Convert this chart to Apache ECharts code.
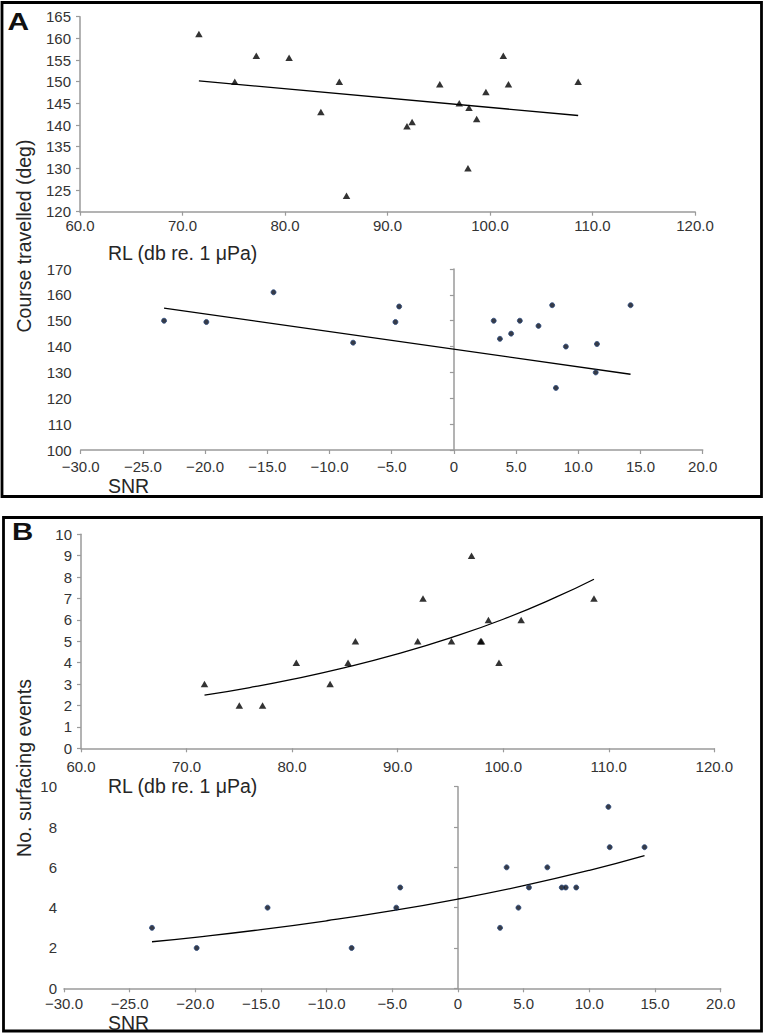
<!DOCTYPE html>
<html>
<head>
<meta charset="utf-8">
<script src="https://cdn.jsdelivr.net/npm/echarts@6/dist/echarts.min.js"></script>
<style>
html,body{margin:0;padding:0;background:#fff;}
#chart{width:767px;height:1034px;}
</style>
</head>
<body>
<div id="chart"></div>
<script>
// ---- Panel A: course travelled ----
const courseRL_x = [71.6, 75.1, 77.2, 80.4, 83.5, 85.3, 86.0, 91.9, 92.4, 95.1, 97.0, 97.95, 97.85, 98.7, 99.6, 101.3, 101.8, 108.6];
const courseRL_y = [161, 150, 156, 155.5, 143, 150, 123.7, 139.7, 140.7, 149.4, 145, 144, 130, 141.4, 147.6, 156, 149.4, 150];
const courseRL_trend_x = [71.6, 108.6];
const courseRL_trend_y = [150.2, 142.2];

const courseSNR_x = [-23.3, -19.9, -14.5, -8.1, -4.7, -4.4, 3.2, 3.7, 4.6, 5.3, 6.8, 7.9, 8.2, 9.0, 11.4, 11.5, 14.2];
const courseSNR_y = [150, 149.5, 161, 141.5, 149.5, 155.5, 150, 143, 145, 150, 148, 156, 124, 140, 130, 141, 156];
const courseSNR_trend_x = [-23.3, 14.2];
const courseSNR_trend_y = [154.9, 129.3];

// ---- Panel B: surfacing events ----
const surfRL_x = [71.7, 75.0, 77.2, 80.4, 83.6, 85.3, 86.0, 91.9, 92.4, 95.1, 97.0, 97.85, 97.95, 98.6, 99.6, 101.7, 108.6];
const surfRL_y = [3, 2, 2, 4, 3, 4, 5, 5, 7, 5, 9, 5, 5, 6, 4, 6, 7];
const surfRL_trend_x = [71.7, 76, 80, 85, 90, 95, 100, 105, 108.6];
const surfRL_trend_y = [2.48, 2.84, 3.22, 3.77, 4.41, 5.16, 6.03, 7.06, 7.90];

const surfSNR_x = [-23.3, -19.9, -14.5, -8.1, -4.7, -4.4, 3.2, 3.7, 4.6, 5.4, 6.8, 7.9, 8.2, 9.0, 11.45, 11.55, 14.2];
const surfSNR_y = [3, 2, 4, 2, 4, 5, 3, 6, 4, 5, 6, 5, 5, 5, 9, 7, 7];
const surfSNR_trend_x = [-23.3, -20, -15, -10, -5, 0, 5, 10, 14.2];
const surfSNR_trend_y = [2.31, 2.53, 2.91, 3.35, 3.85, 4.43, 5.09, 5.85, 6.58];

// ---- Labels ----
const panelLabels = ['A', 'B'];
const xTitleRL = 'RL (db re. 1 \u03BCPa)';
const xTitleSNR = 'SNR';
const yTitleA = 'Course travelled (deg)';
const yTitleB = 'No. surfacing events';

const zip = (xs, ys) => xs.map((x, i) => [x, ys[i]]);
const FONT = "'Liberation Sans', Arial, sans-serif";
const AXIS_GRAY = '#9a9a9a';
const LABEL_COLOR = '#333333';

function fmtRL(v) { return v.toFixed(1); }
function fmtSNR(v) { return v === 0 ? '0' : (v < 0 ? '\u2212' : '') + Math.abs(v).toFixed(1); }

function xAxisCfg(gridIndex, min, max, interval, fmt, margin) {
  return {
    type: 'value', gridIndex, min, max, interval,
    splitLine: { show: false },
    axisLine: { show: true, onZero: false, lineStyle: { color: AXIS_GRAY, width: 1.5 } },
    axisTick: { show: true, length: 4, lineStyle: { color: AXIS_GRAY, width: 1.2 } },
    axisLabel: { color: LABEL_COLOR, fontSize: 15, fontFamily: FONT, margin: margin, formatter: fmt, showMinLabel: true, showMaxLabel: true, hideOverlap: false }
  };
}
function yAxisCfg(gridIndex, min, max, interval, onZero, margin) {
  return {
    type: 'value', gridIndex, min, max, interval,
    splitLine: { show: false },
    axisLine: { show: true, onZero: onZero, lineStyle: { color: AXIS_GRAY, width: 1.5 } },
    axisTick: { show: true, length: 4, lineStyle: { color: AXIS_GRAY, width: 1.2 } },
    axisLabel: { color: LABEL_COLOR, fontSize: 15, fontFamily: FONT, margin: margin, showMinLabel: true, showMaxLabel: true, hideOverlap: false }
  };
}

const chart = echarts.init(document.getElementById('chart'), null, { renderer: 'svg' });

const triStyle = { color: '#000' };
const dotStyle = { color: '#050a18', borderColor: '#2a4a7e', borderWidth: 1 };
const trendStyle = { color: '#000', width: 1.3 };
const titleFill = '#262626';

const option = {
  animation: false,
  backgroundColor: '#fff',
  grid: [
    { left: 80, top: 16.7, width: 615, height: 195, outerBoundsMode: 'none' },
    { left: 80.7, top: 269, width: 622, height: 181, outerBoundsMode: 'none' },
    { left: 81, top: 534.3, width: 633.3, height: 214, outerBoundsMode: 'none' },
    { left: 64, top: 786.7, width: 656.7, height: 201.6, outerBoundsMode: 'none' }
  ],
  xAxis: [
    xAxisCfg(0, 60, 120, 10, fmtRL, 6),
    xAxisCfg(1, -30, 20, 5, fmtSNR, 9),
    xAxisCfg(2, 60, 120, 10, fmtRL, 11),
    xAxisCfg(3, -30, 20, 5, fmtSNR, 8)
  ],
  yAxis: [
    yAxisCfg(0, 120, 165, 5, false, 9),
    yAxisCfg(1, 100, 170, 10, true, 9),
    yAxisCfg(2, 0, 10, 1, false, 9),
    yAxisCfg(3, 0, 10, 2, true, 7)
  ],
  series: [
    { type: 'scatter', xAxisIndex: 0, yAxisIndex: 0, symbol: 'triangle', symbolSize: [7.5, 6.5], itemStyle: triStyle, data: zip(courseRL_x, courseRL_y), z: 3 },
    { type: 'line', xAxisIndex: 0, yAxisIndex: 0, showSymbol: false, lineStyle: trendStyle, data: zip(courseRL_trend_x, courseRL_trend_y), z: 2 },
    { type: 'scatter', xAxisIndex: 1, yAxisIndex: 1, symbol: 'circle', symbolSize: 5, itemStyle: dotStyle, data: zip(courseSNR_x, courseSNR_y), z: 3 },
    { type: 'line', xAxisIndex: 1, yAxisIndex: 1, showSymbol: false, lineStyle: trendStyle, data: zip(courseSNR_trend_x, courseSNR_trend_y), z: 2 },
    { type: 'scatter', xAxisIndex: 2, yAxisIndex: 2, symbol: 'triangle', symbolSize: [7.5, 6.5], itemStyle: triStyle, data: zip(surfRL_x, surfRL_y), z: 3 },
    { type: 'line', xAxisIndex: 2, yAxisIndex: 2, showSymbol: false, smooth: true, lineStyle: trendStyle, data: zip(surfRL_trend_x, surfRL_trend_y), z: 2 },
    { type: 'scatter', xAxisIndex: 3, yAxisIndex: 3, symbol: 'circle', symbolSize: 5, itemStyle: dotStyle, data: zip(surfSNR_x, surfSNR_y), z: 3 },
    { type: 'line', xAxisIndex: 3, yAxisIndex: 3, showSymbol: false, smooth: true, lineStyle: trendStyle, data: zip(surfSNR_trend_x, surfSNR_trend_y), z: 2 }
  ],
  graphic: [
    { type: 'rect', shape: { x: 2, y: 2.5, width: 759.5, height: 494 }, style: { fill: 'none', stroke: '#000', lineWidth: 2.8 }, silent: true },
    { type: 'rect', shape: { x: 3.5, y: 517.5, width: 758, height: 513.5 }, style: { fill: 'none', stroke: '#000', lineWidth: 2.8 }, silent: true },
    { type: 'text', x: 7.5, y: 22.5, scaleX: 1.3, style: { text: panelLabels[0], x: 0, y: 0, fill: '#111', font: "bold 23px " + FONT, textVerticalAlign: 'middle' } },
    { type: 'text', x: 12, y: 532, scaleX: 1.28, style: { text: panelLabels[1], x: 0, y: 0, fill: '#111', font: "bold 23px " + FONT, textVerticalAlign: 'middle' } },
    { type: 'text', style: { text: xTitleRL, x: 108, y: 253, fill: titleFill, font: "19.5px " + FONT, textVerticalAlign: 'middle' } },
    { type: 'text', style: { text: xTitleSNR, x: 108, y: 485.5, fill: titleFill, font: "19.5px " + FONT, textVerticalAlign: 'middle' } },
    { type: 'text', style: { text: xTitleRL, x: 108, y: 786, fill: titleFill, font: "19.5px " + FONT, textVerticalAlign: 'middle' } },
    { type: 'text', style: { text: xTitleSNR, x: 108, y: 1023, fill: titleFill, font: "19.5px " + FONT, textVerticalAlign: 'middle' } },
    { type: 'text', x: 24, y: 236, rotation: Math.PI / 2, style: { text: yTitleA, x: 0, y: 0, fill: titleFill, font: "19.5px " + FONT, textAlign: 'center', textVerticalAlign: 'middle' } },
    { type: 'text', x: 24, y: 768, rotation: Math.PI / 2, style: { text: yTitleB, x: 0, y: 0, fill: titleFill, font: "19.5px " + FONT, textAlign: 'center', textVerticalAlign: 'middle' } }
  ]
};
chart.setOption(option);
</script>
</body>
</html>
